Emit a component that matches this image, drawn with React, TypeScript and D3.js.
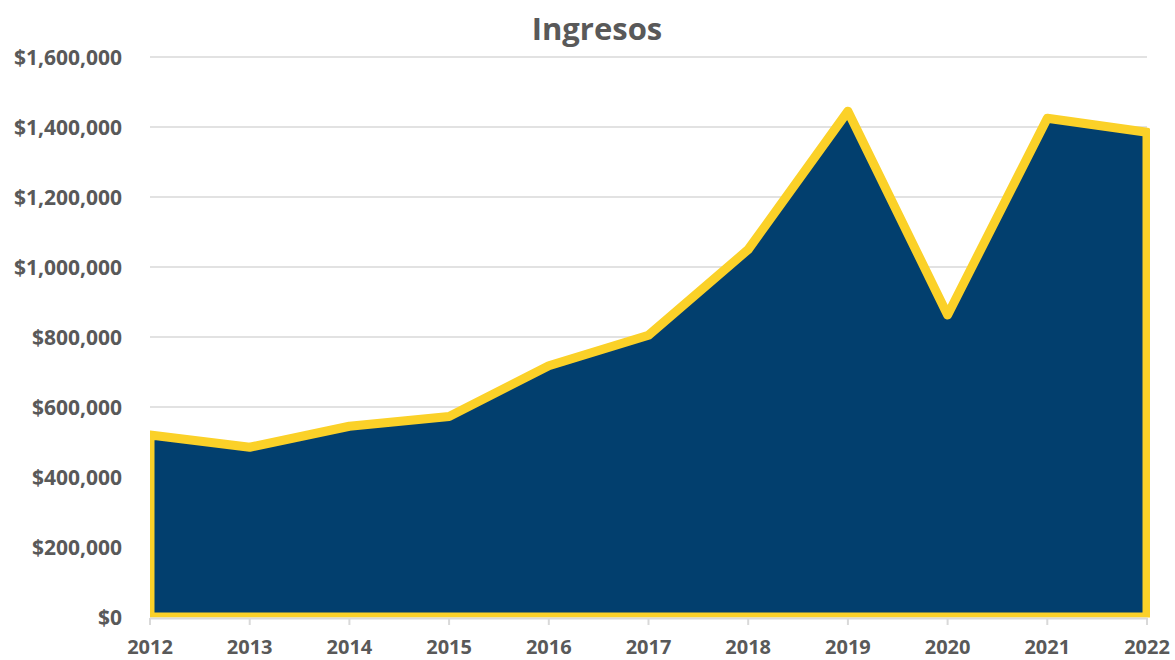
import React from "react";
import * as d3 from "d3";

const years = ["2012", "2013", "2014", "2015", "2016", "2017", "2018", "2019", "2020", "2021", "2022"];
const ingresos = [520000, 485000, 545000, 573000, 718000, 805000, 1050000, 1445000, 863000, 1425000, 1385000];
const yTicks = [0, 200000, 400000, 600000, 800000, 1000000, 1200000, 1400000, 1600000];
const title = "Ingresos";

const W = 1175;
const H = 660;
const left = 150;
const right = 1147;
const top = 57;
const bottom = 617;

export default function App() {
  const x = d3.scalePoint<string>().domain(years).range([left, right]);
  const y = d3.scaleLinear().domain([0, 1600000]).range([bottom, top]);
  const fmt = (v: number) => "$" + d3.format(",")(v);
  const data = years.map((yr, i) => ({ yr, v: ingresos[i] }));
  const area = d3
    .area<{ yr: string; v: number }>()
    .x((d) => x(d.yr) as number)
    .y0(y(0))
    .y1((d) => y(d.v));
  const font = "'Open Sans', sans-serif";
  const gray = "#595959";
  return (
    <svg
      width={W}
      height={H}
      style={{ position: "absolute", left: 0, top: 0, background: "#fff" }}
      fontFamily={font}
    >
      <defs>
        <clipPath id="plotclip">
          <rect x={left} y={0} width={right - left + 3} height={bottom + 0.5} />
        </clipPath>
      </defs>
      <text x={597} y={40} textAnchor="middle" fontSize={31} fontWeight={700} fill={gray}>
        {title}
      </text>
      {yTicks.map((t) => (
        <g key={t}>
          {t > 0 && (
            <line x1={left} x2={right} y1={y(t)} y2={y(t)} stroke="#d9d9d9" strokeWidth={1.5} />
          )}
          <text
            x={122}
            y={y(t)}
            dy="0.36em"
            textAnchor="end"
            fontSize={21}
            fontWeight={700}
            fill={gray}
          >
            {fmt(t)}
          </text>
        </g>
      ))}
      <path
        d={area(data) || ""}
        fill="#023F6E"
        stroke="#FBD128"
        strokeWidth={9}
        strokeLinejoin="round"
        clipPath="url(#plotclip)"
      />
      <line x1={left} x2={right} y1={bottom + 1.5} y2={bottom + 1.5} stroke="#d9d9d9" strokeWidth={2} />
      {years.map((yr) => (
        <g key={yr}>
          <line
            x1={x(yr) as number}
            x2={x(yr) as number}
            y1={bottom + 1}
            y2={bottom + 8}
            stroke="#d9d9d9"
            strokeWidth={2}
          />
          <text
            x={x(yr) as number}
            y={654}
            textAnchor="middle"
            fontSize={20}
            fontWeight={700}
            fill={gray}
          >
            {yr}
          </text>
        </g>
      ))}
    </svg>
  );
}
